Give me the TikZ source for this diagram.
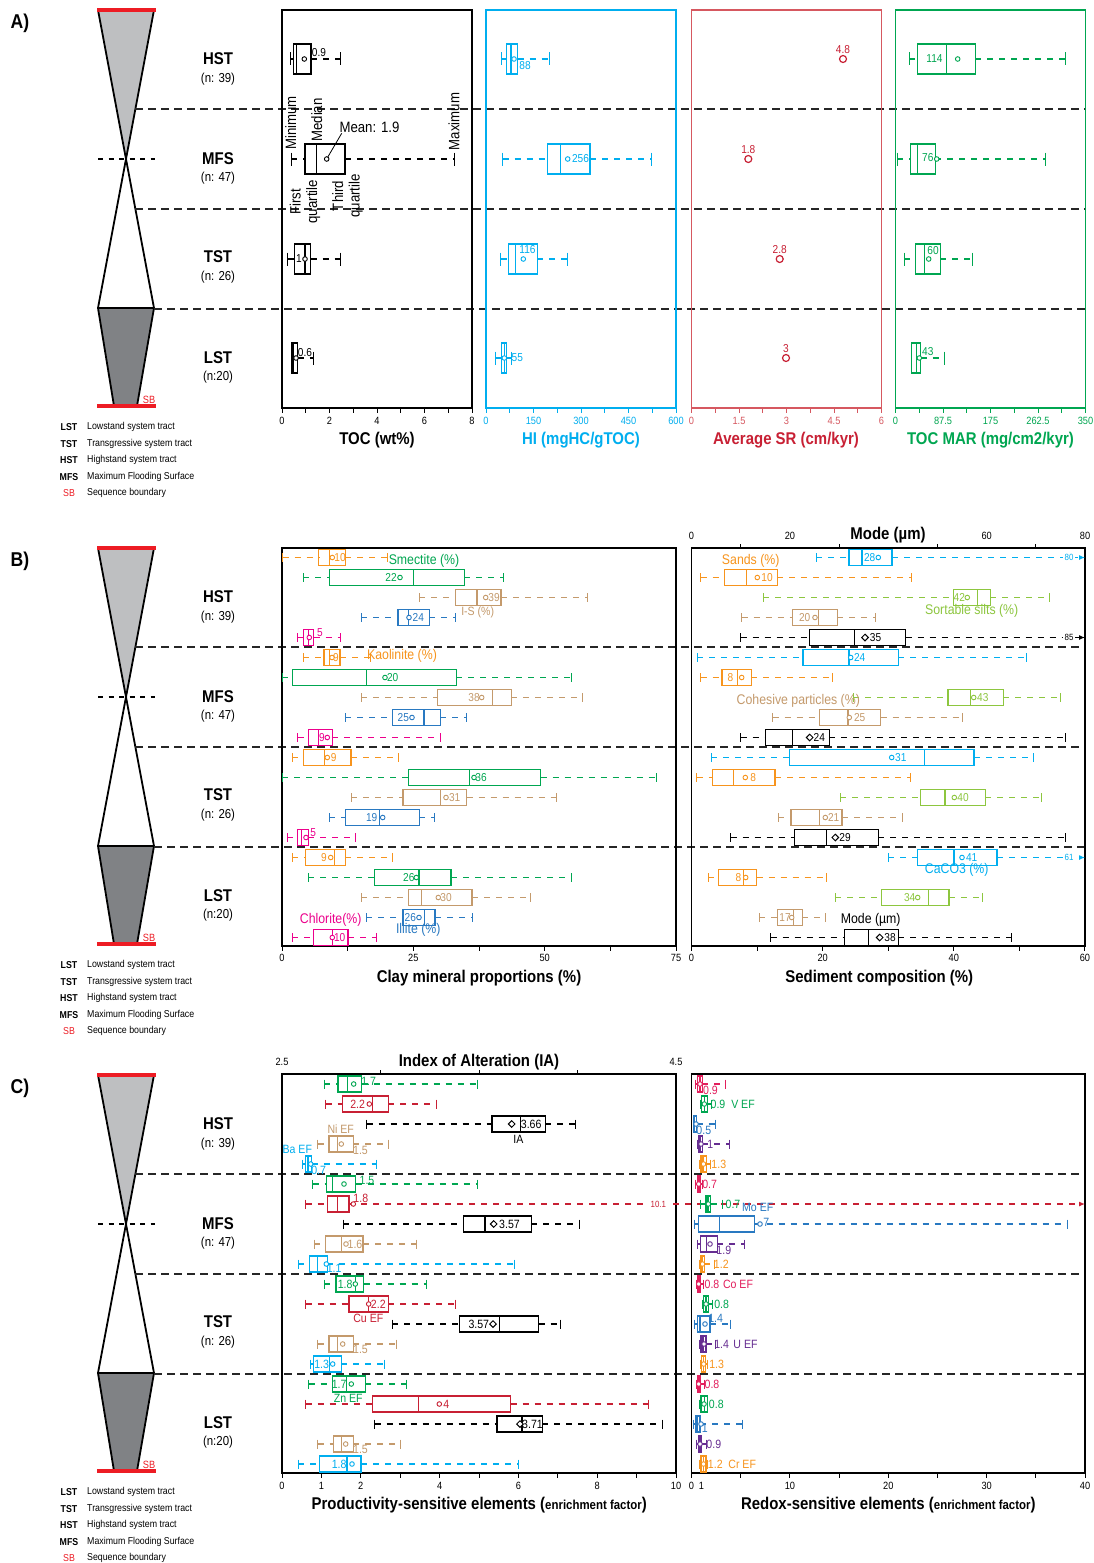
\documentclass[tikz,border=0pt]{standalone}
\usepackage{fontspec}
\setmainfont{Liberation Sans}[FakeStretch=0.88]
\usetikzlibrary{arrows.meta}

\definecolor{hicyan}{RGB}{0,174,239}
\definecolor{margreen}{RGB}{0,166,81}
\definecolor{srred}{RGB}{200,32,52}
\definecolor{srframe}{RGB}{214,88,96}
\definecolor{kaorange}{RGB}{247,148,29}
\definecolor{istan}{RGB}{196,154,108}
\definecolor{illblue}{RGB}{41,121,193}
\definecolor{chlmag}{RGB}{236,0,140}
\definecolor{silgreen}{RGB}{141,198,63}
\definecolor{copink}{RGB}{226,30,92}
\definecolor{upurple}{RGB}{102,45,145}
\definecolor{sbred}{RGB}{237,28,36}
\definecolor{lgray}{RGB}{190,191,193}
\definecolor{dgray}{RGB}{128,130,133}

\tikzset{
  frm/.style={line width=1.4pt},
  whisk/.style={line width=1.1pt, dash pattern=on 6pt off 6pt},
  boxln/.style={line width=1.3pt},
  sepln/.style={line width=1.2pt, dash pattern=on 8pt off 5pt, black!85},
  tk/.style={line width=1pt},
  ticklab/.style={font=\fontsize{10.5}{12}\selectfont, inner sep=0pt},
  axttl/.style={font=\fontsize{17}{20}\selectfont\bfseries, inner sep=0pt},
  val/.style={font=\fontsize{11.5}{13}\selectfont, inner sep=0pt},
  sml/.style={font=\fontsize{12}{13}\selectfont, inner sep=0pt},
  ser/.style={font=\fontsize{14}{16}\selectfont, inner sep=0pt},
  note/.style={font=\fontsize{15}{16.5}\selectfont, inner sep=0pt},
  tract/.style={font=\fontsize{17}{20}\selectfont\bfseries, inner sep=0pt},
  ncount/.style={font=\fontsize{13}{15}\selectfont, inner sep=0pt},
  lgab/.style={font=\fontsize{10}{12}\selectfont\bfseries, inner sep=0pt},
  lgtx/.style={font=\fontsize{10}{12}\selectfont, inner sep=0pt, anchor=west},
  plab/.style={font=\fontsize{20}{24}\selectfont\bfseries, inner sep=0pt},
  arrlab/.style={font=\fontsize{9}{10}\selectfont, fill=white, inner xsep=1.5pt, inner ysep=0pt},
}

% box plot: [half height]{colour}{y}{min}{q1}{median}{q3}{max}
\newcommand{\caph}{4.5}
\newcommand{\bxp}[8][8]{%
  \draw[#2, whisk] (#4,#3) -- (#5,#3) (#7,#3) -- (#8,#3);
  \draw[#2, tk] (#4,#3-\caph) -- (#4,#3+\caph) (#8,#3-\caph) -- (#8,#3+\caph);
  \draw[#2, boxln] (#5,#3-#1) rectangle (#7,#3+#1) (#6,#3-#1) -- (#6,#3+#1);}
% box plot whose maximum runs off the right edge: {colour}{y}{min}{q1}{median}{q3}
\newcommand{\bxa}[6]{%
  \draw[#1, whisk] (#3,#2) -- (#4,#2);
  \draw[#1, tk] (#3,#2-\caph) -- (#3,#2+\caph);
  \draw[#1, whisk, -{Latex[length=6pt,width=5pt]}] (#6,#2) -- (1085,#2);
  \draw[#1, boxln] (#4,#2-8) rectangle (#6,#2+8) (#5,#2-8) -- (#5,#2+8);}
% mean markers
\newcommand{\mn}[3]{\draw[#1, line width=0.9pt, fill=white] (#2,#3) circle (2.3pt);}
\newcommand{\dm}[2]{\draw[line width=1pt, fill=white] (#1,#2) +(-3.3,0) -- +(0,3.3) -- +(3.3,0) -- +(0,-3.3) -- cycle;}

% sequence stratigraphy column, tract names, separators and legend
\newcommand{\seqcol}[2]{%
\begin{scope}[shift={(0,#1)}]
  \node[plab] at (20,23) {#2)};
  \fill[lgray] (98,10) -- (154,10) -- (126,159) -- cycle;
  \fill[dgray] (98,308) -- (154,308) -- (137,406) -- (114,406) -- cycle;
  \draw[line width=1.8pt, line join=round] (98,10) -- (154,308) -- (137,406) (154,10) -- (98,308) -- (114,406) (98,308) -- (154,308);
  \draw[sbred, line width=4.5pt] (97,10) -- (156,10) (97,406) -- (156,406);
  \draw[line width=2.5pt, dash pattern=on 5pt off 5.5pt] (98,159) -- (155,159);
  \node[font=\fontsize{10.5}{12}\selectfont, text=sbred, inner sep=0pt] at (149,399.5) {SB};
  \node[tract] at (218,59) {HST};  \node[ncount] at (218,79) {(n: 39)};
  \node[tract] at (218,159) {MFS}; \node[ncount] at (218,178) {(n: 47)};
  \node[tract] at (218,257) {TST}; \node[ncount] at (218,277) {(n: 26)};
  \node[tract] at (218,357.5) {LST}; \node[ncount] at (218,377.5) {(n:20)};
  \draw[sepln] (135.4,109) -- (1085.5,109) (135.4,209) -- (1085.5,209) (154,309) -- (1085.5,309);
  \foreach \y/\ab/\tx in {427/LST/Lowstand system tract, 444/TST/Transgressive system tract,
      460/HST/Highstand system tract, 477/MFS/Maximum Flooding Surface}{
    \node[lgab] at (69,\y) {\ab}; \node[lgtx] at (87,\y) {\tx};}
  \node[lgab, font=\fontsize{10}{12}\selectfont, text=sbred] at (69,493) {SB};
  \node[lgtx] at (87,493) {Sequence boundary};
\end{scope}}

\begin{document}
\begin{tikzpicture}[x=1pt,y=-1pt]
\fill[white] (0,0) rectangle (1094,1563);
\useasboundingbox (0,0) rectangle (1094,1563);

\seqcol{0}{A}
\seqcol{538}{B}
\seqcol{1065}{C}

%% ---------------- A) ----------------
\draw[frm] (282,10) rectangle (472,408);
\draw[frm, hicyan] (486,10) rectangle (676,408);
\draw[frm, srframe] (691.5,10) rectangle (881.5,408);
\draw[frm, margreen] (895.5,10) rectangle (1085.5,408);
\foreach \i in {0,...,8}{
  \draw[tk] ({282+23.75*\i},408) -- ++(0,4.5);
  \draw[tk, hicyan] ({486+23.75*\i},408) -- ++(0,4.5);
  \draw[tk, srframe] ({691.5+23.75*\i},408) -- ++(0,4.5);
  \draw[tk, margreen] ({895.5+23.75*\i},408) -- ++(0,4.5);}
\foreach \i/\a/\b/\c/\d in {0/0/0/0/0, 2/2/150/1.5/87.5, 4/4/300/3/175, 6/6/450/4.5/262.5, 8/8/600/6/350}{
  \node[ticklab] at ({282+23.75*\i},421) {\a};
  \node[ticklab, text=hicyan] at ({486+23.75*\i},421) {\b};
  \node[ticklab, text=srframe] at ({691.5+23.75*\i},421) {\c};
  \node[ticklab, text=margreen] at ({895.5+23.75*\i},421) {\d};}
\node[axttl] at (377,440) {TOC (wt\%)};
\node[axttl, text=hicyan] at (581,440) {HI (mgHC/gTOC)};
\node[axttl, text=srred] at (786,440) {Average SR (cm/kyr)};
\node[axttl, text=margreen] at (990.5,440) {TOC MAR (mg/cm2/kyr)};

\renewcommand{\caph}{6.5}
% TOC
\bxp[15]{black}{59}{290}{293.3}{296.7}{311}{340}\mn{black}{304.3}{59}
\node[val] at (319,53) {0.9};
\bxp[15]{black}{159}{291}{305}{316.7}{345}{454}\mn{black}{326.7}{159}
\bxp[15]{black}{259}{287.7}{294.3}{305}{310.7}{340}\mn{black}{305}{259}
\node[val] at (299,259) {1};
\bxp[15]{black}{358}{291}{291.7}{293}{297.7}{313.3}\mn{black}{296}{358}
\node[val] at (305,352.5) {0.6};
\node[note, rotate=90] at (290.7,123) {Minimum};
\node[note, rotate=90] at (316.7,120) {Median};
\node[note, rotate=90] at (454,121.5) {Maximum};
\node[note, anchor=west] at (339.3,127.7) {Mean: 1.9};
\draw[line width=0.8pt] (341.7,133.3) -- (327.7,157.2);
\node[note, rotate=90, align=center] at (305,201.7) {First\\quartile};
\node[note, rotate=90, align=center] at (347.5,196) {Third\\quartile};
% HI
\bxp[15]{hicyan}{59}{501}{506.7}{511}{517.7}{549}\mn{hicyan}{514}{59}
\node[val, text=hicyan] at (525,66) {88};
\bxp[15]{hicyan}{159}{502.7}{547.7}{560.3}{590}{651}\mn{hicyan}{567.7}{159}
\node[val, text=hicyan] at (580.5,159) {256};
\bxp[15]{hicyan}{259}{500.7}{508.3}{515.3}{537.3}{567}\mn{hicyan}{523.3}{259}
\node[val, text=hicyan] at (527.5,250) {116};
\bxp[15]{hicyan}{358}{495}{501.7}{504.3}{506.7}{511}\mn{hicyan}{504.3}{358}
\node[val, text=hicyan] at (517.3,358) {55};
% SR
\foreach \x/\y/\v in {843/59/4.8, 748.3/159/1.8, 779.7/259/2.8, 786/358/3}{
  \draw[srred, line width=1.2pt] (\x,\y) circle (3.5pt);
  \node[val, text=srred] at (\x,\y-9.5) {\v};}
% TOC MAR
\bxp[15]{margreen}{59}{909}{917.7}{946.3}{975.3}{1065}\mn{margreen}{957.7}{59}
\node[val, text=margreen] at (934.5,59) {114};
\bxp[15]{margreen}{159}{897.3}{910.7}{917.7}{935.3}{1045}\mn{margreen}{936.7}{159}
\node[val, text=margreen] at (927.8,158) {76};
\bxp[15]{margreen}{259}{904}{915.3}{924.3}{940.3}{972.7}\mn{margreen}{928.7}{259}
\node[val, text=margreen] at (933,251) {60};
\bxp[15]{margreen}{358}{911}{911.7}{916.3}{920.7}{944.3}\mn{margreen}{919.3}{358}
\node[val, text=margreen] at (927.8,352) {43};
\renewcommand{\caph}{4.5}

%% ---------------- B) ----------------
\draw[frm] (282,548) rectangle (676,946);
\draw[frm] (691.5,548) rectangle (1085,946);
\foreach \i in {0,...,6}{
  \draw[tk] ({282+65.67*\i},946) -- ++(0,4.5);
  \draw[tk] ({691.5+65.58*\i},946) -- ++(0,4.5);}
\foreach \i in {1,3,5,7} \draw[tk] ({691.5+49.19*\i},548) -- ++(0,-4.5);
\foreach \i/\v in {0/0,2/25,4/50,6/75} \node[ticklab] at ({282+65.67*\i},958.3) {\v};
\foreach \i/\v in {0/0,2/20,4/40,6/60} \node[ticklab] at ({691.5+65.58*\i},958.3) {\v};
\foreach \i/\v in {0/0,2/20,6/60,8/80} \node[ticklab] at ({691.5+49.19*\i},536) {\v};
\node[axttl] at (888,535) {Mode (µm)};
\node[axttl] at (479,977.7) {Clay mineral proportions (\%)};
\node[axttl] at (879.3,977.7) {Sediment composition (\%)};

% clay: HST
\bxp{kaorange}{557.5}{282.5}{318.7}{329.3}{345.3}{387.3}\mn{kaorange}{332.3}{557.5}
\node[val, text=kaorange] at (340,557.5) {10};
\bxp{margreen}{577.5}{303.3}{329.3}{413.7}{464.3}{503.3}\mn{margreen}{400}{577.5}
\node[val, text=margreen] at (391,577.5) {22};
\bxp{istan}{597.5}{419}{455.7}{477}{501}{587.7}\mn{istan}{485.7}{597.5}
\node[val, text=istan] at (494,597.5) {39};
\bxp{illblue}{617.5}{361}{398}{408.7}{429.3}{455.7}\mn{illblue}{409}{617.5}
\node[val, text=illblue] at (418.3,617.5) {24};
\bxp{chlmag}{637.5}{297.7}{303.3}{308.7}{313.7}{340}\mn{chlmag}{309.3}{637.5}
\node[val, text=chlmag] at (320,633) {5};
\node[ser, text=margreen] at (424,561) {Smectite (\%)};
\node[sml, text=istan] at (477.7,612.3) {I-S (\%)};
% clay: MFS
\bxp{kaorange}{657.5}{303.3}{324}{329.3}{340}{370}\mn{kaorange}{332}{657.5}
\node[val, text=kaorange] at (336,657.5) {9};
\node[ser, text=kaorange] at (402,656) {Kaolinite (\%)};
\bxp{margreen}{677.5}{282.3}{292.3}{366.3}{456.3}{571.7}\mn{margreen}{385}{677.5}
\node[val, text=margreen] at (392.7,677.5) {20};
\bxp{istan}{697.5}{361}{437.3}{492.7}{511.3}{582}\mn{istan}{481.7}{697.5}
\node[val, text=istan] at (474,697.5) {38};
\bxp{illblue}{717.5}{345.3}{392.7}{424}{440.3}{466.3}\mn{illblue}{412}{717.5}
\node[val, text=illblue] at (403.3,717.5) {25};
\bxp{chlmag}{737.5}{297.7}{308.3}{318.7}{332.3}{440.3}\mn{chlmag}{327.3}{737.5}
\node[val, text=chlmag] at (322,737.5) {9};
% clay: TST
\bxp{kaorange}{757.5}{292.3}{303.3}{324.3}{351}{398.3}\mn{kaorange}{327.3}{757.5}
\node[val, text=kaorange] at (333.7,757.5) {9};
\bxp{margreen}{777.5}{282.3}{408.3}{469.3}{540.7}{656}\mn{margreen}{474}{777.5}
\node[val, text=margreen] at (481,777.5) {36};
\bxp{istan}{797.5}{351}{403}{440.3}{466.7}{556.3}\mn{istan}{446}{797.5}
\node[val, text=istan] at (454.7,797.5) {31};
\bxp{illblue}{817.5}{329.3}{345.3}{379.3}{419.3}{434.7}\mn{illblue}{382.7}{817.5}
\node[val, text=illblue] at (371.7,817.5) {19};
\bxp{chlmag}{837.5}{287.3}{297.7}{301.7}{308.3}{355.7}\mn{chlmag}{306}{837.5}
\node[val, text=chlmag] at (313.3,833) {5};
% clay: LST
\bxp{kaorange}{857.5}{292.3}{305.7}{334.7}{345.3}{392.3}\mn{kaorange}{330.7}{857.5}
\node[val, text=kaorange] at (324,857.5) {9};
\bxp{margreen}{877.5}{308.3}{374.3}{419}{451}{571.7}\mn{margreen}{416.3}{877.5}
\node[val, text=margreen] at (408.8,877.5) {26};
\bxp{istan}{897.5}{361}{408.3}{421.7}{472}{530}\mn{istan}{438.3}{897.5}
\node[val, text=istan] at (446,897.5) {30};
\bxp{illblue}{917.5}{366.3}{403}{424.3}{435}{472}\mn{illblue}{419}{917.5}
\node[val, text=illblue] at (410.3,917.5) {26};
\bxp{chlmag}{937.5}{292.3}{313.7}{332.3}{348}{376.7}\mn{chlmag}{332.3}{937.5}
\node[val, text=chlmag] at (339.7,937.5) {10};
\node[ser, text=chlmag] at (330.7,920) {Chlorite(\%)};
\node[ser, text=illblue] at (418.3,930) {Illite (\%)};

% sediment: HST
\bxa{hicyan}{557.5}{816.3}{849}{862}{892}\mn{hicyan}{878.3}{557.5}
\node[val, text=hicyan] at (869.7,557.5) {28};
\node[arrlab, text=hicyan] at (1069,557.5) {80};
\bxp{kaorange}{577.5}{700.7}{724.7}{746.7}{777.3}{911.7}\mn{kaorange}{757.3}{577.5}
\node[val, text=kaorange] at (767,577.5) {10};
\bxp{silgreen}{597.5}{763}{953.7}{977.3}{990.3}{1049.7}\mn{silgreen}{967.3}{597.5}
\node[val, text=silgreen] at (959.3,597.5) {42};
\bxp{istan}{617.5}{741.7}{792.3}{818.7}{837.3}{875}\mn{istan}{815}{617.5}
\node[val, text=istan] at (804.7,617.5) {20};
\bxa{black}{637.5}{740.7}{809.7}{854.3}{905.7}\dm{865}{637.5}
\node[val] at (875.5,637.5) {35};
\node[arrlab] at (1069,637.5) {85};
\node[ser, text=kaorange] at (750.7,561) {Sands (\%)};
\node[ser, text=silgreen] at (971.7,611) {Sortable silts (\%)};
% sediment: MFS
\bxp{hicyan}{657.5}{697.3}{803}{849}{898.3}{1026.3}\mn{hicyan}{850.7}{657.5}
\node[val, text=hicyan] at (859.7,657.5) {24};
\bxp{kaorange}{677.5}{700.7}{722}{737.3}{751.3}{832}\mn{kaorange}{741.7}{677.5}
\node[val, text=kaorange] at (730.5,677.5) {8};
\bxp{silgreen}{697.5}{853}{948}{970.3}{1003.3}{1060.3}\mn{silgreen}{973.7}{697.5}
\node[val, text=silgreen] at (982.8,697.5) {43};
\bxp{istan}{717.5}{772.7}{819.3}{848}{880.7}{962.7}\mn{istan}{849.3}{717.5}
\node[val, text=istan] at (859.7,717.5) {25};
\bxp{black}{737.5}{740.7}{765.3}{792.7}{829.3}{1065.7}\dm{809.7}{737.5}
\node[val] at (819.3,737.5) {24};
\node[ser, text=istan] at (798.3,701) {Cohesive particles (\%)};
% sediment: TST
\bxp{hicyan}{757.5}{711}{789.7}{924.3}{974}{1033}\mn{hicyan}{891.7}{757.5}
\node[val, text=hicyan] at (900.8,757.5) {31};
\bxp{kaorange}{777.5}{696.7}{712.3}{733.3}{775}{910.7}\mn{kaorange}{745.3}{777.5}
\node[val, text=kaorange] at (753.3,777.5) {8};
\bxp{silgreen}{797.5}{840}{920.3}{945}{985.3}{1041}\mn{silgreen}{954.3}{797.5}
\node[val, text=silgreen] at (963,797.5) {40};
\bxp{istan}{817.5}{778}{791}{819.3}{842}{902.3}\mn{istan}{825.3}{817.5}
\node[val, text=istan] at (833.7,817.5) {21};
\bxp{black}{837.5}{730.7}{794.7}{826.7}{878.3}{1065.7}\dm{835.3}{837.5}
\node[val] at (845,837.5) {29};
% sediment: LST
\bxa{hicyan}{857.5}{888.3}{917.7}{954}{997}\mn{hicyan}{962}{857.5}
\node[val, text=hicyan] at (971.7,857.5) {41};
\node[arrlab, text=hicyan] at (1069,857.5) {61};
\bxp{kaorange}{877.5}{708.3}{718.7}{743.3}{756.7}{826.7}\mn{kaorange}{745.7}{877.5}
\node[val, text=kaorange] at (738.5,877.5) {8};
\bxp{silgreen}{897.5}{835.3}{881.3}{928.3}{949}{982}\mn{silgreen}{917.7}{897.5}
\node[val, text=silgreen] at (909.7,897.5) {34};
\bxp{istan}{917.5}{759}{777.7}{793.7}{802.3}{825}\mn{istan}{791.7}{917.5}
\node[val, text=istan] at (785,917.5) {17};
\bxp{black}{937.5}{770.7}{844.3}{868.7}{898.3}{1011.7}\dm{879.7}{937.5}
\node[val] at (890,937.5) {38};
\node[ser, text=hicyan] at (956.7,870) {CaCO3 (\%)};
\node[ser] at (870.7,920) {Mode (µm)};

%% ---------------- C) ----------------
\draw[frm] (282,1074) rectangle (676,1473);
\draw[frm] (691.5,1074) rectangle (1085,1473);
\foreach \i in {0,...,10} \draw[tk] ({282+39.4*\i},1473) -- ++(0,4.5);
\foreach \i in {0,...,8} \draw[tk] ({691.5+49.19*\i},1473) -- ++(0,4.5);
\foreach \i in {1,2,3} \draw[tk] ({282+98.5*\i},1074) -- ++(0,-4.5);
\foreach \v in {0,1,2,4,6,8,10} \node[ticklab] at ({282+39.4*\v},1486) {\v};
\foreach \v in {0,1,10,20,30,40} \node[ticklab] at ({691.5+9.838*\v},1486) {\v};
\node[ticklab] at (282,1062) {2.5};
\node[ticklab] at (676,1062) {4.5};
\node[axttl] at (479,1062) {Index of Alteration (IA)};
\node[axttl] at (479.2,1505) {Productivity-sensitive elements ({\fontsize{13}{15}\selectfont enrichment factor})};
\node[axttl] at (888.3,1505) {Redox-sensitive elements ({\fontsize{13}{15}\selectfont enrichment factor})};

% productivity: HST
\bxp{margreen}{1084}{324.3}{338}{347.7}{361.7}{477}\mn{margreen}{353.7}{1084}
\node[sml, text=margreen] at (368.7,1081.7) {1.7};
\bxp{srred}{1104}{325.7}{342.7}{372.7}{388.3}{436}\mn{srred}{369.3}{1104}
\node[sml, text=srred] at (357.7,1104) {2.2};
\bxp{black}{1124}{366.7}{492}{520.3}{545.3}{575.7}\dm{511.7}{1124}
\node[sml] at (531.2,1124) {3.66};
\node[sml] at (518.3,1139.3) {IA};
\bxp{istan}{1144}{317.7}{329}{337.7}{353.3}{388.3}\mn{istan}{341.3}{1144}
\node[sml, text=istan] at (360.5,1150) {1.5};
\node[sml, text=istan] at (340.7,1129) {Ni EF};
\bxp{hicyan}{1164}{302.3}{305.7}{308}{311.7}{376.7}\mn{hicyan}{310.7}{1164}
\node[sml, text=hicyan] at (318.7,1170) {0.7};
\node[sml, text=hicyan] at (297.3,1149) {Ba EF};
% productivity: MFS
\bxp{margreen}{1184}{312.7}{326.7}{332.7}{355.7}{477}\mn{margreen}{344}{1184}
\node[sml, text=margreen] at (367,1180.7) {1.5};
\bxa{srred}{1204}{305.7}{327.3}{337.3}{349}\mn{srred}{353.3}{1204}
\node[sml, text=srred] at (360.8,1198.3) {1.8};
\node[arrlab, text=srred] at (658.3,1204) {10.1};
\bxp{black}{1224}{343}{463.7}{485}{531.3}{579.3}\dm{493.7}{1224}
\node[sml] at (509.5,1224) {3.57};
\bxp{istan}{1244}{314}{325.3}{341.3}{363}{416.3}\mn{istan}{346}{1244}
\node[sml, text=istan] at (355,1244) {1.6};
\bxp{hicyan}{1264}{298}{309.7}{317.7}{327.3}{514.7}\mn{hicyan}{326.3}{1264}
\node[sml, text=hicyan] at (334.2,1268.3) {1.1};
% productivity: TST
\bxp{margreen}{1284}{324.3}{336}{355.3}{363.7}{426.3}\mn{margreen}{355.3}{1284}
\node[sml, text=margreen] at (345.2,1284) {1.8};
\bxp{srred}{1304}{305.7}{349}{368.7}{388.3}{455.3}\mn{srred}{368.7}{1304}
\node[sml, text=srred] at (378.3,1304) {2.2};
\node[sml, text=srred] at (368.3,1318.3) {Cu EF};
\bxp{black}{1324}{392.3}{459.7}{499.3}{538.7}{560}\dm{493}{1324}
\node[sml] at (478.8,1324) {3.57};
\bxp{istan}{1344}{317.7}{329}{337.3}{353.3}{396.3}\mn{istan}{342.7}{1344}
\node[sml, text=istan] at (360.5,1349.7) {1.5};
\bxp{hicyan}{1364}{310.3}{313.7}{329.3}{341.3}{384.3}\mn{hicyan}{332.7}{1364}
\node[sml, text=hicyan] at (321.7,1364) {1.3};
% productivity: LST
\bxp{margreen}{1384}{308.7}{332.3}{346.3}{365.3}{406.7}\mn{margreen}{351.3}{1384}
\node[sml, text=margreen] at (339.2,1384) {1.7};
\node[sml, text=margreen] at (348.3,1398.3) {Zn EF};
\bxp{srred}{1404}{305.7}{372.7}{418.3}{510.7}{648.3}\mn{srred}{439.3}{1404}
\node[sml, text=srred] at (446.2,1404) {4};
\bxp{black}{1424}{374.7}{497}{522}{542.3}{662.3}\dm{520}{1424}
\node[sml] at (532.5,1424) {3.71};
\bxp{istan}{1444}{317.7}{333.3}{341.7}{353.3}{400.3}\mn{istan}{345.7}{1444}
\node[sml, text=istan] at (360.5,1449.7) {1.5};
\bxp{hicyan}{1464}{298}{319.3}{347}{361}{518.7}\mn{hicyan}{352}{1464}
\node[sml, text=hicyan] at (339.2,1464) {1.8};

% redox: HST
\bxp{copink}{1084}{695.7}{697.7}{700}{702.3}{725}\mn{copink}{700}{1084}
\node[sml, text=copink] at (710.5,1090.7) {0.9};
\bxp{margreen}{1104}{700.7}{701.7}{704.3}{707.3}{711}\mn{margreen}{704.3}{1104}
\node[sml, text=margreen] at (718,1104) {0.9};
\node[sml, text=margreen] at (743,1104) {V EF};
\bxp{illblue}{1124}{693.3}{693.3}{694.5}{696.7}{715.7}\mn{illblue}{696}{1124}
\node[sml, text=illblue] at (703.8,1130) {0.5};
\bxp{upurple}{1144}{697.3}{698.3}{700}{702.3}{729.3}\mn{upurple}{701}{1144}
\node[sml, text=upurple] at (710.3,1144) {1};
\bxp{kaorange}{1164}{699.3}{701}{703}{706.7}{710}\mn{kaorange}{703.5}{1164}
\node[sml, text=kaorange] at (718.8,1164) {1.3};
% redox: MFS
\bxp{copink}{1184}{695}{697.3}{698.5}{700}{702.3}\mn{copink}{698.7}{1184}
\node[sml, text=copink] at (709.7,1184) {0.7};
\bxp{margreen}{1204}{700.7}{706}{708}{710.7}{722.3}\mn{margreen}{708.3}{1204}
\node[sml, text=margreen] at (733,1204) {0.7};
\node[sml, text=illblue] at (757.7,1207.7) {Mo EF};
\bxp{illblue}{1224}{694.3}{698.3}{719.3}{754.7}{1067.7}\mn{illblue}{760}{1224}
\node[sml, text=illblue] at (766.3,1222.3) {7};
\bxp{upurple}{1244}{697.3}{700.3}{706.3}{717.3}{744}\mn{upurple}{710}{1244}
\node[sml, text=upurple] at (723.8,1250) {1.9};
\bxp{kaorange}{1264}{699}{701}{702.5}{704.3}{714}\mn{kaorange}{702.5}{1264}
\node[sml, text=kaorange] at (721.3,1264) {1.2};
% redox: TST
\bxp{copink}{1284}{696}{697.3}{699}{700.7}{703.3}\mn{copink}{698.7}{1284}
\node[sml, text=copink] at (712,1284) {0.8};
\node[sml, text=copink] at (738,1284) {Co EF};
\bxp{margreen}{1304}{702.3}{703.3}{706}{708.3}{712.3}\mn{margreen}{706}{1304}
\node[sml, text=margreen] at (721.7,1304) {0.8};
\bxp{illblue}{1324}{694.3}{697.7}{700}{710}{730.7}\mn{illblue}{705}{1324}
\node[sml, text=illblue] at (715.7,1318.5) {1.4};
\bxp{upurple}{1344}{699.3}{701}{703}{706}{715.7}\mn{upurple}{704}{1344}
\node[sml, text=upurple] at (721.7,1344) {1.4};
\node[sml, text=upurple] at (745.5,1344) {U EF};
\bxp{kaorange}{1364}{700}{701.7}{703.5}{705.7}{707.7}\mn{kaorange}{703.7}{1364}
\node[sml, text=kaorange] at (716.7,1364) {1.3};
% redox: LST
\bxp{copink}{1384}{696}{697.3}{699}{700.7}{704}\mn{copink}{698.7}{1384}
\node[sml, text=copink] at (712,1384) {0.8};
\bxp{margreen}{1404}{699.3}{701}{704.5}{707.3}{707.7}\mn{margreen}{704}{1404}
\node[sml, text=margreen] at (716.3,1404) {0.8};
\bxp{illblue}{1424}{693.3}{696}{697.5}{700}{742.7}\mn{illblue}{701}{1424}
\node[sml, text=illblue] at (704.7,1428.3) {1};
\bxp{upurple}{1444}{696.7}{698.3}{700}{701.7}{706.7}\mn{upurple}{700}{1444}
\node[sml, text=upurple] at (713.8,1444) {0.9};
\bxp{kaorange}{1464}{699.3}{701}{703.5}{706}{707.7}\mn{kaorange}{703.5}{1464}
\node[sml, text=kaorange] at (715.3,1464) {1.2};
\node[sml, text=kaorange] at (742.2,1464) {Cr EF};
\end{tikzpicture}
\end{document}
